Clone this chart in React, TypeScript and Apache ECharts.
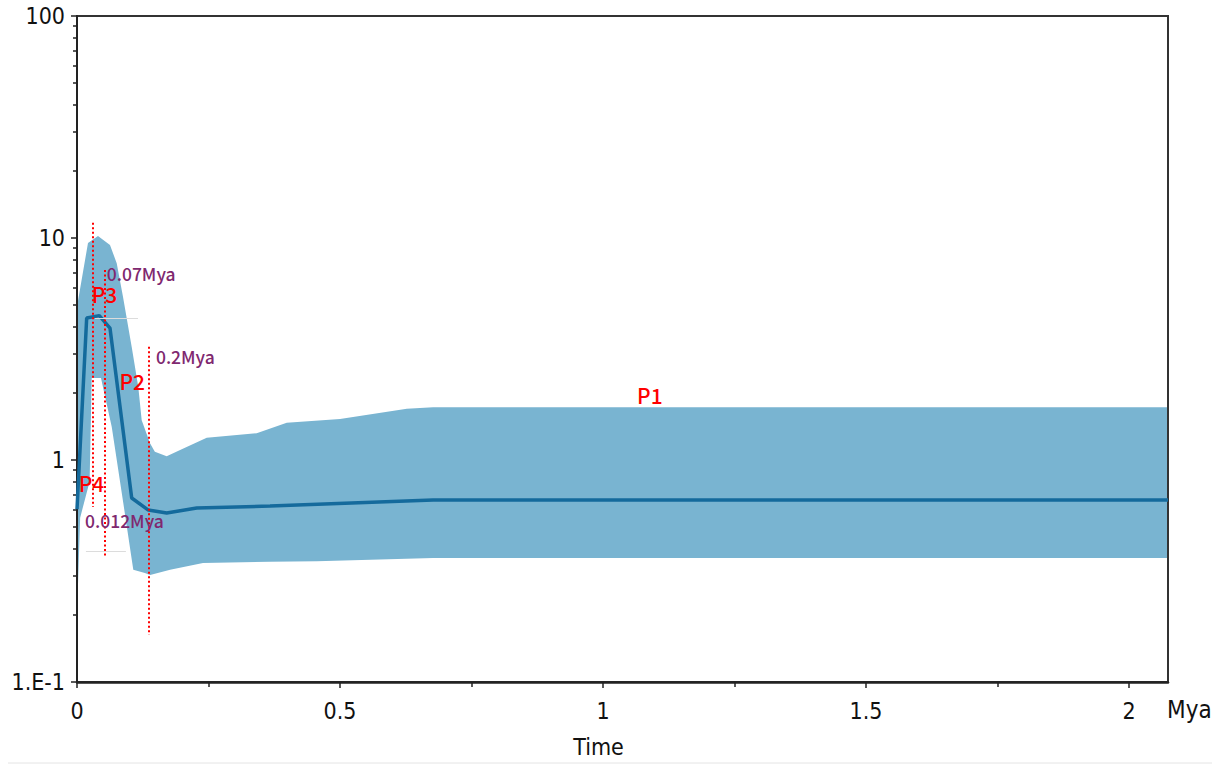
import { useEffect, useRef } from "react";
import * as echarts from "echarts";

// median effective population size over time (Mya)
const medianTime = [0, 0.0184, 0.0424, 0.0627, 0.104, 0.1356, 0.1705, 0.2276, 0.367, 0.677, 2.074];
const medianNe = [0.6, 4.36, 4.47, 3.93, 0.674, 0.595, 0.577, 0.608, 0.62, 0.66, 0.66];

// upper 95% HPD
const upperTime = [0, 0.0209, 0.0399, 0.0627, 0.0755, 0.0875, 0.104, 0.1165, 0.123, 0.1388, 0.148, 0.1705, 0.196, 0.2466, 0.3416, 0.3987, 0.5, 0.627, 0.677, 2.074];
const upperNe = [4.9, 9.5, 10.2, 9.3, 7.7, 5.42, 3.23, 2.13, 1.51, 1.19, 1.09, 1.04, 1.11, 1.26, 1.32, 1.47, 1.53, 1.7, 1.73, 1.73];

// lower 95% HPD
const lowerTime = [0, 0.006, 0.024, 0.028, 0.0456, 0.066, 0.088, 0.107, 0.129, 0.139, 0.177, 0.2395, 0.367, 0.456, 0.677, 2.074];
const lowerNe = [0.2, 0.55, 0.8, 2.34, 2.34, 1.41, 0.64, 0.32, 0.31, 0.303, 0.32, 0.344, 0.348, 0.35, 0.362, 0.362];

// red dotted period boundaries
const dividerTime = [0.0291, 0.0519, 0.1356];
const dividerTop = [11.7, 7.17, 3.24];
const dividerBottom = [0.614, 0.367, 0.163];

const periodNames = ["P1", "P2", "P3", "P4"];
const periodTime = [1.089, 0.105, 0.0523, 0.0276];
const periodNe = [1.97, 2.27, 5.6, 0.784];

const dateLabels = ["0.07Mya", "0.2Mya", "0.012Mya"];
const dateTime = [0.0565, 0.15, 0.0152];
const dateNe = [6.95, 2.93, 0.534];

const xMajor = [0, 0.5, 1, 1.5, 2];
const xMinor = [0.25, 0.75, 1.25, 1.75];
const yMajor = [0.1, 1, 10, 100];
const yMinor = [0.2, 0.3, 0.4, 0.5, 0.6, 0.7, 0.8, 0.9, 2, 3, 4, 5, 6, 7, 8, 9, 20, 30, 40, 50, 60, 70, 80, 90];

const axisFont = "'Liberation Sans Narrow', 'Arial Narrow', 'DejaVu Sans Condensed', Arial, sans-serif";
const noteFont = "'Noto Sans CJK SC', 'Noto Sans', sans-serif";

const zip = (a: number[], b: number[]) => a.map((v, i) => [v, b[i]]);

export default function App() {
  const chartRef = useRef<HTMLDivElement>(null);

  useEffect(() => {
    if (!chartRef.current) return;
    const chart = echarts.init(chartRef.current, null, { renderer: "svg" });

    const option: echarts.EChartsOption = {
      animation: false,
      backgroundColor: "#fff",
      grid: {
        left: 77,
        right: 59,
        top: 16,
        bottom: 90,
        show: true,
        borderColor: "#333",
        borderWidth: 2,
        backgroundColor: "transparent",
        z: 3,
      },
      xAxis: [
        {
          type: "value",
          position: "bottom",
          min: 0,
          max: 2.074,
          z: 3,
          axisLine: { lineStyle: { color: "#222", width: 2.5 } },
          axisTick: { customValues: xMajor, length: 6, lineStyle: { color: "#222", width: 1.5 } },
          axisLabel: {
            customValues: xMajor,
            formatter: (v: number) => String(v),
            margin: 17,
            fontSize: 23,
            color: "#111",
            fontFamily: axisFont,
          },
          splitLine: { show: false },
          name: "Time",
          nameLocation: "middle",
          nameGap: 53,
          nameTextStyle: { fontSize: 23, color: "#111", fontFamily: axisFont, padding: [0, 48, 0, 0] },
        },
        {
          type: "value",
          position: "bottom",
          min: 0,
          max: 2.074,
          z: 3,
          axisLine: { show: false },
          axisTick: { customValues: xMinor, length: 5, lineStyle: { color: "#222", width: 1.5 } },
          axisLabel: { show: false },
          splitLine: { show: false },
        },
      ],
      yAxis: [
        {
          type: "log",
          logBase: 10,
          position: "left",
          min: 0.1,
          max: 100,
          z: 3,
          axisLine: { show: true, lineStyle: { color: "#222", width: 2 } },
          axisTick: { show: true, customValues: yMajor, length: 6, lineStyle: { color: "#222", width: 1.5 } },
          axisLabel: {
            customValues: yMajor,
            formatter: (v: number) => (v < 0.5 ? "1.E-1" : String(Math.round(v))),
            margin: 12,
            fontSize: 23,
            color: "#111",
            fontFamily: axisFont,
          },
          splitLine: { show: false },
        },
        {
          type: "log",
          logBase: 10,
          position: "left",
          min: 0.1,
          max: 100,
          z: 3,
          axisLine: { show: false },
          axisTick: { show: true, customValues: yMinor, length: 4, lineStyle: { color: "#222", width: 1.5 } },
          axisLabel: { show: false },
          splitLine: { show: false },
        },
      ],
      series: [
        {
          name: "upper",
          type: "line",
          data: zip(upperTime, upperNe),
          symbol: "none",
          lineStyle: { width: 0 },
          areaStyle: { color: "#79b4d1", opacity: 1 },
          z: 2,
        },
        {
          name: "lower",
          type: "line",
          data: zip(lowerTime, lowerNe),
          symbol: "none",
          lineStyle: { width: 0 },
          areaStyle: { color: "#ffffff", opacity: 1 },
          z: 2,
          markLine: {
            silent: true,
            symbol: ["none", "none"],
            label: { show: false },
            lineStyle: { color: "#dcdcdc", type: "solid", width: 1 },
            data: [
              [{ coord: [0.034, 4.36] }, { coord: [0.116, 4.36] }],
              [{ coord: [0.017, 0.39] }, { coord: [0.093, 0.39] }],
            ],
          },
        },
        {
          name: "median",
          type: "line",
          data: zip(medianTime, medianNe),
          symbol: "none",
          lineStyle: { color: "#146a9c", width: 3.5 },
          z: 4,
          markLine: {
            silent: true,
            symbol: ["none", "none"],
            label: { show: false },
            lineStyle: { color: "#ff0000", type: [2, 2.5], width: 2 },
            data: dividerTime.map((t, i) => [
              { coord: [t, dividerTop[i]] },
              { coord: [t, dividerBottom[i]] },
            ]) as any,
          },
          markPoint: {
            silent: true,
            symbol: "circle",
            symbolSize: 0,
            data: [
              ...periodNames.map((n, i) => ({
                name: n,
                coord: [periodTime[i], periodNe[i]],
                label: {
                  show: true,
                  position: "inside",
                  formatter: "{b}",
                  color: "#ff0000",
                  fontSize: 21,
                  fontWeight: 500,
                  fontFamily: noteFont,
                },
              })),
              ...dateLabels.map((n, i) => ({
                name: n,
                coord: [dateTime[i], dateNe[i]],
                label: {
                  show: true,
                  position: "right",
                  distance: 0,
                  formatter: "{b}",
                  color: "#80286f",
                  fontSize: 17.5,
                  fontWeight: 500,
                  fontFamily: noteFont,
                },
              })),
            ] as any,
          },
        },
      ],
      graphic: [
        {
          type: "text",
          left: 1167,
          top: 698,
          style: { text: "Mya", fontSize: 24, fill: "#111", fontFamily: axisFont },
        },
        {
          type: "line",
          shape: { x1: 8, y1: 763, x2: 1212, y2: 763 },
          style: { stroke: "#e4e4e4", lineWidth: 1 },
        },
      ],
    };

    chart.setOption(option);
    return () => {
      chart.dispose();
    };
  }, []);

  return (
    <div
      ref={chartRef}
      style={{ position: "fixed", left: 0, top: 0, width: 1227, height: 772, background: "#fff" }}
    />
  );
}
